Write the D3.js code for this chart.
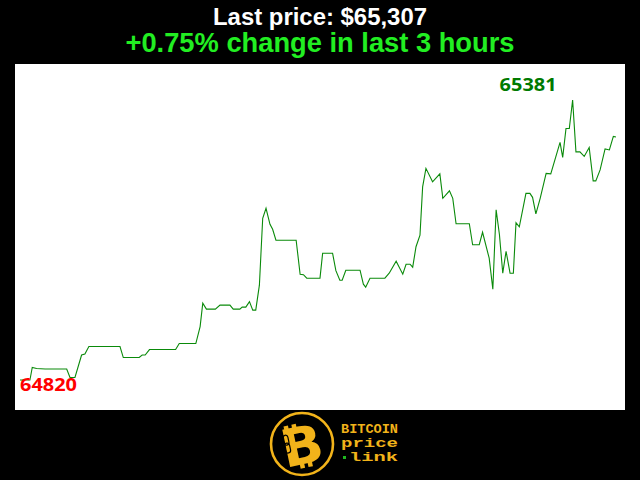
<!DOCTYPE html>
<html>
<head>
<meta charset="utf-8">
<script src="https://cdn.jsdelivr.net/npm/d3@7"></script>
<style>
html,body{margin:0;padding:0;background:#000;}
svg{display:block;}
</style>
</head>
<body>
<script>
// ---- data ----
const minutes = [0,3.0,3.7,5.0,7.6,14.1,15.1,16.6,18.6,19.6,
20.8,30.2,31.2,36.0,36.9,37.8,39.1,47.0,48.1,53.1,
54.4,55.2,56.3,59.0,60.4,63.4,64.4,66.4,67.1,68.2,
69.3,70.3,71.2,72.3,73.3,74.3,75.5,76.3,77.3,83.4,
84.6,85.6,86.6,90.6,91.4,94.4,95.4,96.6,97.3,98.4,
102.7,103.7,104.4,105.7,110.2,111.5,113.6,115.6,116.6,117.8,
118.6,119.6,120.8,121.6,122.6,124.6,126.8,127.7,129.7,130.7,
131.7,135.7,136.7,138.7,139.7,141.7,142.8,143.8,144.8,145.8,
146.8,148.0,149.0,149.8,150.8,152.8,154.0,154.8,155.8,157.1,
158.9,160.3,163.1,163.9,164.9,165.9,166.9,167.9,169.1,170.4,
171.9,173.1,173.9,175.2,176.7,178.0,179.2,180];
const prices = [64820,64820,64845,64843,64842,64842,64825,64825,64870,64872,
64887,64887,64865,64865,64870,64870,64881,64881,64893,64893,
64927,64974,64962,64962,64970,64970,64962,64962,64966,64966,
64977,64960,64960,65010,65144,65164,65132,65122,65100,65100,
65032,65031,65024,65024,65074,65074,65039,65020,65020,65040,
65040,65012,65006,65024,65024,65034,65058,65032,65052,65052,
65046,65087,65110,65207,65244,65217,65233,65184,65199,65184,
65133,65133,65091,65091,65116,65064,65002,65161,65111,65034,
65078,65034,65034,65135,65127,65194,65194,65186,65153,65184,
65234,65233,65296,65266,65324,65324,65381,65277,65277,65268,
65286,65219,65219,65241,65283,65281,65308,65307];
const titleText = "Last price: $65,307";
const subtitleText = "+0.75% change in last 3 hours";
const logoLines = ["BITCOIN", "price", "link"];

// ---- chart ----
const W = 640, H = 480;
const svg = d3.select("body").append("svg").attr("width", W).attr("height", H);
svg.append("rect").attr("width", W).attr("height", H).attr("fill", "#000");

const plot = {x0: 15, x1: 625, y0: 64, y1: 410};
svg.append("rect").attr("x", plot.x0).attr("y", plot.y0)
  .attr("width", plot.x1 - plot.x0).attr("height", plot.y1 - plot.y0).attr("fill", "#fff");

const data = minutes.map((m, i) => ({t: m, v: prices[i]}));
const minV = d3.min(prices), maxV = d3.max(prices);
const x = d3.scaleLinear().domain([0, 180]).range([20, 616]);
const y = d3.scaleLinear().domain([minV, maxV]).range([380, 100]);

svg.append("path").datum(data)
  .attr("fill", "none").attr("stroke", "#0a8a0a").attr("stroke-width", 1.1)
  .attr("d", d3.line().x(d => x(d.t)).y(d => y(d.v)));

const minPt = data[prices.indexOf(minV)];
const maxPt = data[prices.indexOf(maxV)];
svg.append("text").text(String(minV))
  .attr("x", x(minPt.t)).attr("y", y(minPt.v) + 10.5)
  .attr("font-family", "Open Sans, DejaVu Sans, sans-serif").attr("font-weight", "bold").attr("font-size", 18)
  .attr("textLength", 57).attr("lengthAdjust", "spacingAndGlyphs")
  .attr("fill", "#ff0000");
svg.append("text").text(String(maxV))
  .attr("x", x(maxPt.t) - 73).attr("y", y(maxPt.v) - 9)
  .attr("font-family", "Open Sans, DejaVu Sans, sans-serif").attr("font-weight", "bold").attr("font-size", 18)
  .attr("textLength", 57).attr("lengthAdjust", "spacingAndGlyphs")
  .attr("fill", "#007a00");

// titles
svg.append("text").text(titleText)
  .attr("x", 320).attr("y", 24.5).attr("text-anchor", "middle")
  .attr("font-family", "Liberation Sans, Arial, sans-serif").attr("font-weight", "bold")
  .attr("font-size", 24).attr("textLength", 214).attr("lengthAdjust", "spacingAndGlyphs")
  .attr("fill", "#fff");
svg.append("text").text(subtitleText)
  .attr("x", 320).attr("y", 51.5).attr("text-anchor", "middle")
  .attr("font-family", "Liberation Sans, Arial, sans-serif").attr("font-weight", "bold")
  .attr("font-size", 27).attr("textLength", 389).attr("lengthAdjust", "spacingAndGlyphs")
  .attr("fill", "#22ee22");

// logo
const gold = "#f2b31a";
const logo = svg.append("g");
logo.append("circle").attr("cx", 302).attr("cy", 444).attr("r", 31)
  .attr("fill", "#000").attr("stroke", gold).attr("stroke-width", 2.6);
const bg = logo.append("g").attr("transform", "rotate(-12,302,446)");
// bars
[[288, 423], [296, 423]].forEach(p => bg.append("rect").attr("x", p[0]).attr("y", p[1]).attr("width", 4.5).attr("height", 9).attr("fill", gold));
[[296, 459], [304, 459]].forEach(p => bg.append("rect").attr("x", p[0]).attr("y", p[1]).attr("width", 4.5).attr("height", 9).attr("fill", gold));
bg.append("text").text("B")
  .attr("x", 302).attr("y", 464).attr("text-anchor", "middle")
  .attr("font-family", "DejaVu Sans").attr("font-weight", "bold").attr("font-size", 52)
  .attr("textLength", 42).attr("lengthAdjust", "spacingAndGlyphs")
  .attr("fill", gold);
// chain link in stem
bg.append("rect").attr("x", 285).attr("y", 432).attr("width", 5).attr("height", 10).attr("rx", 2.5)
  .attr("fill", "none").attr("stroke", "#000").attr("stroke-width", 1.2);
bg.append("rect").attr("x", 285).attr("y", 440).attr("width", 5).attr("height", 10).attr("rx", 2.5)
  .attr("fill", "none").attr("stroke", "#000").attr("stroke-width", 1.2);

const lt = [[341, 433, 57], [341, 446.5, 57], [349, 460.5, 49]];
logoLines.forEach((s, i) => {
  svg.append("text").text(s)
    .attr("x", lt[i][0]).attr("y", lt[i][1])
    .attr("font-family", "Liberation Mono, Courier New, monospace").attr("font-weight", "bold")
    .attr("font-size", 13).attr("textLength", lt[i][2]).attr("lengthAdjust", "spacingAndGlyphs")
    .attr("fill", gold);
});
svg.append("rect").attr("x", 343).attr("y", 456).attr("width", 3).attr("height", 3).attr("fill", "#1fb81f");
</script>
</body>
</html>
